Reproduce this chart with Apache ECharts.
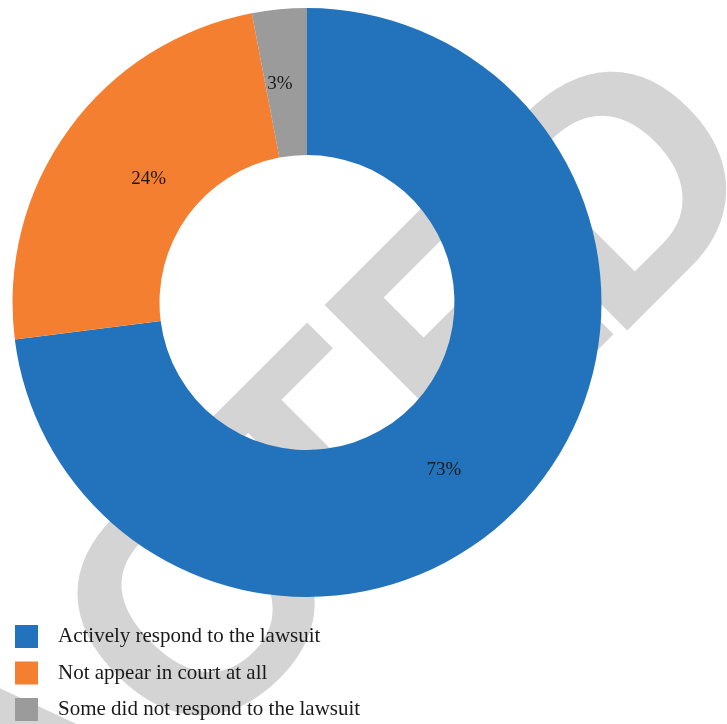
<!DOCTYPE html>
<html>
<head>
<meta charset="utf-8">
<script src="https://cdn.jsdelivr.net/npm/echarts@6/dist/echarts.min.js"></script>
<style>
html,body{margin:0;padding:0;background:#fff;}
#chart{width:727px;height:724px;}
</style>
</head>
<body>
<div id="chart"></div>
<script>
var categories = ['Actively respond to the lawsuit', 'Not appear in court at all', 'Some did not respond to the lawsuit'];
var values = [73, 24, 3];
var colors = ['#2273BC', '#F47F30', '#9B9B9B'];

// watermark letters (diagonal "RETRACTED")
function wm(text, u, align, v) {
  v = v || -580;
  var s = Math.SQRT2;
  return {
    type: 'text', z: 0, silent: true,
    x: (u - v) / s, y: -(u + v) / s,
    rotation: Math.PI / 4,
    style: {
      text: text, fill: '#D4D4D4',
      font: 'bold 327px "Liberation Sans"',
      textAlign: align || 'left', textVerticalAlign: 'middle'
    }
  };
}

var labelShift = [[-31, 19], [23, 8], [-6, 5]];

var chart = echarts.init(document.getElementById('chart'));
var data = categories.map(function (c, i) {
  return { name: c, value: values[i], itemStyle: { color: colors[i] } };
});
chart.setOption({
  animation: false,
  backgroundColor: '#fff',
  graphic: [
    wm('RETRA', -410, 'right', -584),
    wm('C', -408, 'left', -584),
    wm('T', -207),
    wm('E', -8),
    wm('D', 188, 'left', -587)
  ],
  legend: {
    orient: 'vertical',
    left: 15,
    top: 625,
    padding: 0,
    itemWidth: 23,
    itemHeight: 23,
    itemGap: 13.5,
    icon: 'rect',
    textStyle: {
      fontFamily: 'Liberation Serif',
      fontSize: 21,
      color: '#1a1a1a',
      padding: [0, 0, 0, 15]
    },
    data: categories
  },
  series: [{
    type: 'pie',
    z: 2,
    center: [307, 302.5],
    radius: [147.5, 294.5],
    startAngle: 90,
    clockwise: true,
    avoidLabelOverlap: false,
    label: {
      show: true,
      position: 'inside',
      formatter: '{c}%',
      fontFamily: 'Liberation Serif',
      fontSize: 19,
      color: '#1a1a1a'
    },
    labelLayout: function (p) {
      var d = labelShift[p.dataIndex] || [0, 0];
      return { dx: d[0], dy: d[1] };
    },
    labelLine: { show: false },
    emphasis: { disabled: true },
    itemStyle: { borderWidth: 0 },
    data: data
  }]
});
</script>
</body>
</html>
